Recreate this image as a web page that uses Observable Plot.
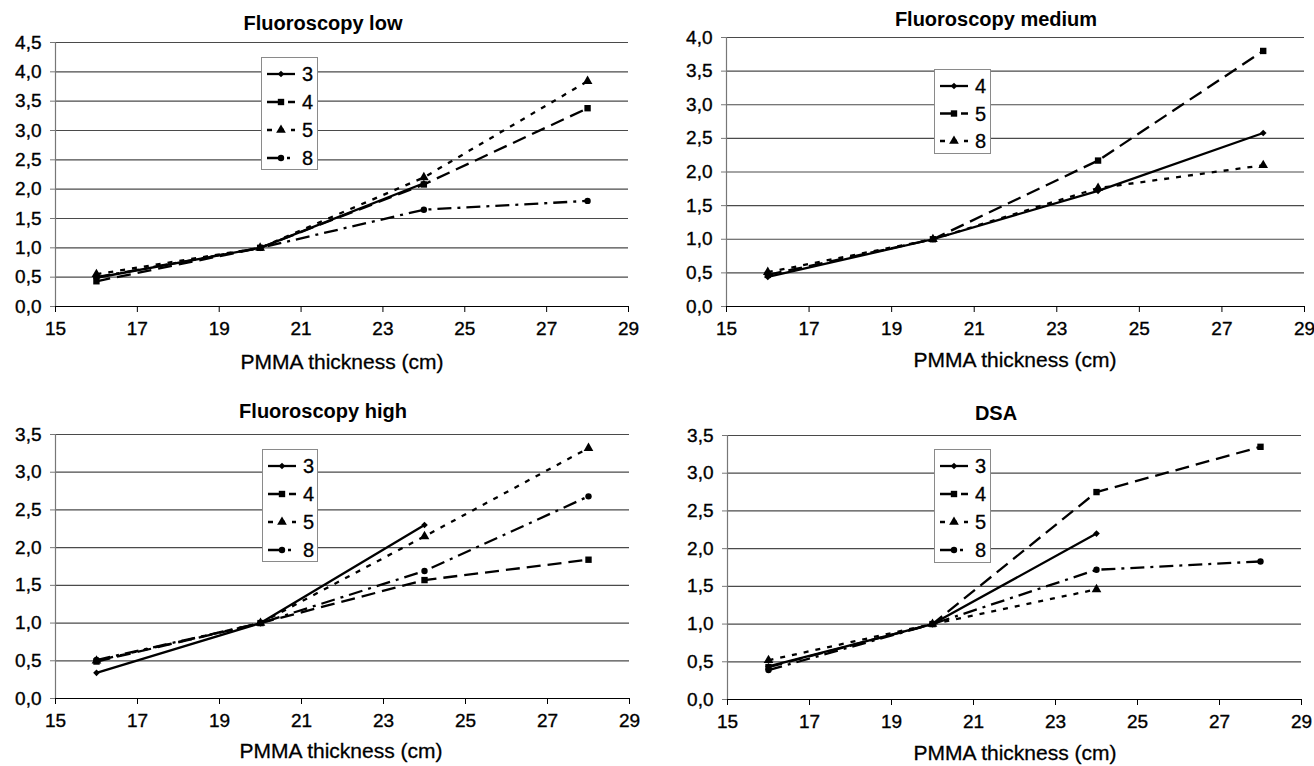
<!DOCTYPE html>
<html><head><meta charset="utf-8">
<script src="https://cdn.jsdelivr.net/npm/d3@7"></script>
<script src="https://cdn.jsdelivr.net/npm/@observablehq/plot@0.6"></script>
<style>
body{margin:0;background:#fff;font-family:"Liberation Sans",Arial,sans-serif;color:#000}
#wrap{position:relative;width:1314px;height:766px;overflow:hidden;background:#fff}
.panel{position:absolute;width:657px;height:383px}
.panel svg.plot{position:absolute;left:0;top:0}
.panel svg.plot g[aria-label$="tick label"] text{stroke:#000;stroke-width:0.35px}
.title{position:absolute;font-weight:bold;font-size:20px;transform:translate(-50%,-50%);white-space:nowrap}
.xlabel{position:absolute;font-size:21px;transform:translate(-50%,-50%);white-space:nowrap;-webkit-text-stroke:0.3px #000}
.legend{position:absolute;background:#fff;border:1px solid #8a8a8a;box-sizing:border-box}
.legend svg{position:absolute;left:0;top:0}
.legend text{stroke:#000;stroke-width:0.3px}
</style>
</head><body>
<div id="wrap"></div>
<script>
// ---- data ----
const thickness = [16, 20, 24, 28];
const xTicks = [15, 17, 19, 21, 23, 25, 27, 29];

const lowTitle = "Fluoroscopy low";
const lowSeries = ["3", "4", "5", "8"];
const low_3 = [0.49, 1.0, 2.10];
const low_4 = [0.43, 1.0, 2.08, 3.38];
const low_5 = [0.55, 1.0, 2.20, 3.84];
const low_8 = [0.50, 1.0, 1.65, 1.80];
const lowYTicks = [0, 0.5, 1, 1.5, 2, 2.5, 3, 3.5, 4, 4.5];

const medTitle = "Fluoroscopy medium";
const medSeries = ["4", "5", "8"];
const med_4 = [0.44, 1.0, 1.72, 2.58];
const med_5 = [0.47, 1.0, 2.17, 3.80];
const med_8 = [0.51, 1.0, 1.76, 2.10];
const medYTicks = [0, 0.5, 1, 1.5, 2, 2.5, 3, 3.5, 4];

const highTitle = "Fluoroscopy high";
const highSeries = ["3", "4", "5", "8"];
const high_3 = [0.34, 1.0, 2.30];
const high_4 = [0.49, 1.0, 1.57, 1.84];
const high_5 = [0.50, 1.0, 2.15, 3.32];
const high_8 = [0.51, 1.0, 1.69, 2.68];
const highYTicks = [0, 0.5, 1, 1.5, 2, 2.5, 3, 3.5];

const dsaTitle = "DSA";
const dsaSeries = ["3", "4", "5", "8"];
const dsa_3 = [0.44, 1.0, 2.20];
const dsa_4 = [0.43, 1.0, 2.75, 3.35];
const dsa_5 = [0.52, 1.0, 1.46];
const dsa_8 = [0.39, 1.0, 1.72, 1.83];
const dsaYTicks = [0, 0.5, 1, 1.5, 2, 2.5, 3, 3.5];

const xLabel = "PMMA thickness (cm)";

// ---- styles by series order ----
const seriesStyles = [
  {dash: null, symbol: "diamond2", r: 3},
  {dash: "14,7", symbol: "square", r: 3.6},
  {dash: "5,7", symbol: "triangle", r: 3.6},
  {dash: "14,6,3,6", symbol: "circle", r: 3.2}
];

// ---- layout ----
const panels = [
  {title: lowTitle, series: lowSeries, values: [low_3, low_4, low_5, low_8], yTicks: lowYTicks,
   left: 0, top: 0, m: {l: 55, r: 29, t: 42, b: 77},
   titlePos: [323, 23], xlabPos: [342, 362], legend: {x: 261, y: 57, w: 57, h: 113, step: 28}},
  {title: medTitle, series: medSeries, values: [med_4, med_5, med_8], yTicks: medYTicks,
   left: 657, top: 0, m: {l: 69, r: 10, t: 37, b: 77},
   titlePos: [339, 19], xlabPos: [358, 360], legend: {x: 277, y: 69, w: 57, h: 85, step: 27.5}},
  {title: highTitle, series: highSeries, values: [high_3, high_4, high_5, high_8], yTicks: highYTicks,
   left: 0, top: 383, m: {l: 55, r: 28, t: 51, b: 68},
   titlePos: [323, 28], xlabPos: [341, 368], legend: {x: 262, y: 66, w: 56, h: 113, step: 28}},
  {title: dsaTitle, series: dsaSeries, values: [dsa_3, dsa_4, dsa_5, dsa_8], yTicks: dsaYTicks,
   left: 657, top: 383, m: {l: 70, r: 13, t: 52, b: 67},
   titlePos: [339, 30], xlabPos: [358, 370], legend: {x: 277, y: 66, w: 57, h: 114, step: 28}}
];

const fmt = d => d.toFixed(1).replace(".", ",");
const wrap = document.getElementById("wrap");

panels.forEach(p => {
  const div = document.createElement("div");
  div.className = "panel";
  div.style.left = p.left + "px";
  div.style.top = p.top + "px";
  wrap.appendChild(div);

  const rows = [];
  p.series.forEach((s, i) => p.values[i].forEach((v, j) => rows.push({series: s, idx: i, x: thickness[j], y: v})));

  const yMax = p.yTicks[p.yTicks.length - 1];
  const marks = [
    Plot.ruleY(p.yTicks.filter(d => d > 0), {stroke: "#4a4a4a", strokeWidth: 1.2}),
    Plot.ruleX([15], {y1: 0, y2: yMax, stroke: "#777", strokeWidth: 1.2}),
    Plot.ruleY([0], {stroke: "#000", strokeWidth: 1.2}),
    Plot.axisY({ticks: p.yTicks, tickFormat: fmt, tickSize: 5, tickPadding: 9, fontSize: 19, label: null, stroke: "#777"}),
    Plot.axisX({ticks: xTicks, tickFormat: d => String(d), tickSize: 6, tickPadding: 9, fontSize: 19, label: null})
  ];
  p.series.forEach((s, i) => {
    const st = seriesStyles[i];
    const data = rows.filter(r => r.series === s);
    marks.push(Plot.line(data, {x: "x", y: "y", stroke: "#000", strokeWidth: 2.3,
      strokeDasharray: st.dash || undefined, strokeLinecap: "butt"}));
    marks.push(Plot.dot(data, {x: "x", y: "y", symbol: st.symbol, r: st.r, fill: "#000", stroke: "none"}));
  });

  const svg = Plot.plot({
    width: 657, height: 383,
    marginLeft: p.m.l, marginRight: p.m.r, marginTop: p.m.t, marginBottom: p.m.b,
    x: {domain: [15, 29]},
    y: {domain: [0, yMax]},
    style: {fontFamily: '"Liberation Sans", Arial, sans-serif', color: "#000", background: "transparent", overflow: "visible"},
    marks
  });
  svg.classList.add("plot");
  div.appendChild(svg);

  const t = document.createElement("div");
  t.className = "title";
  t.textContent = p.title;
  t.style.left = p.titlePos[0] + "px";
  t.style.top = p.titlePos[1] + "px";
  div.appendChild(t);

  const xl = document.createElement("div");
  xl.className = "xlabel";
  xl.textContent = xLabel;
  xl.style.left = p.xlabPos[0] + "px";
  xl.style.top = p.xlabPos[1] + "px";
  div.appendChild(xl);

  // legend
  const L = p.legend;
  const lg = document.createElement("div");
  lg.className = "legend";
  lg.style.left = L.x + "px";
  lg.style.top = L.y + "px";
  lg.style.width = L.w + "px";
  lg.style.height = L.h + "px";
  div.appendChild(lg);
  const ls = d3.select(lg).append("svg").attr("width", L.w).attr("height", L.h);
  p.series.forEach((s, i) => {
    const st = seriesStyles[i];
    const cy = 16 + i * L.step;
    ls.append("line").attr("x1", 5).attr("x2", 33).attr("y1", cy).attr("y2", cy)
      .attr("stroke", "#000").attr("stroke-width", 2.3)
      .attr("stroke-dasharray", st.dash ? st.dash : null);
    const sym = {diamond2: d3.symbolDiamond2, square: d3.symbolSquare, triangle: d3.symbolTriangle, circle: d3.symbolCircle}[st.symbol];
    const size = Math.PI * st.r * st.r;
    ls.append("path").attr("d", d3.symbol(sym, size)()).attr("transform", `translate(19,${cy})`).attr("fill", "#000");
    ls.append("text").attr("x", 40).attr("y", cy).attr("dy", "0.36em")
      .attr("font-size", 20).attr("font-family", '"Liberation Sans", Arial, sans-serif').text(s);
  });
});
</script>
</body></html>
